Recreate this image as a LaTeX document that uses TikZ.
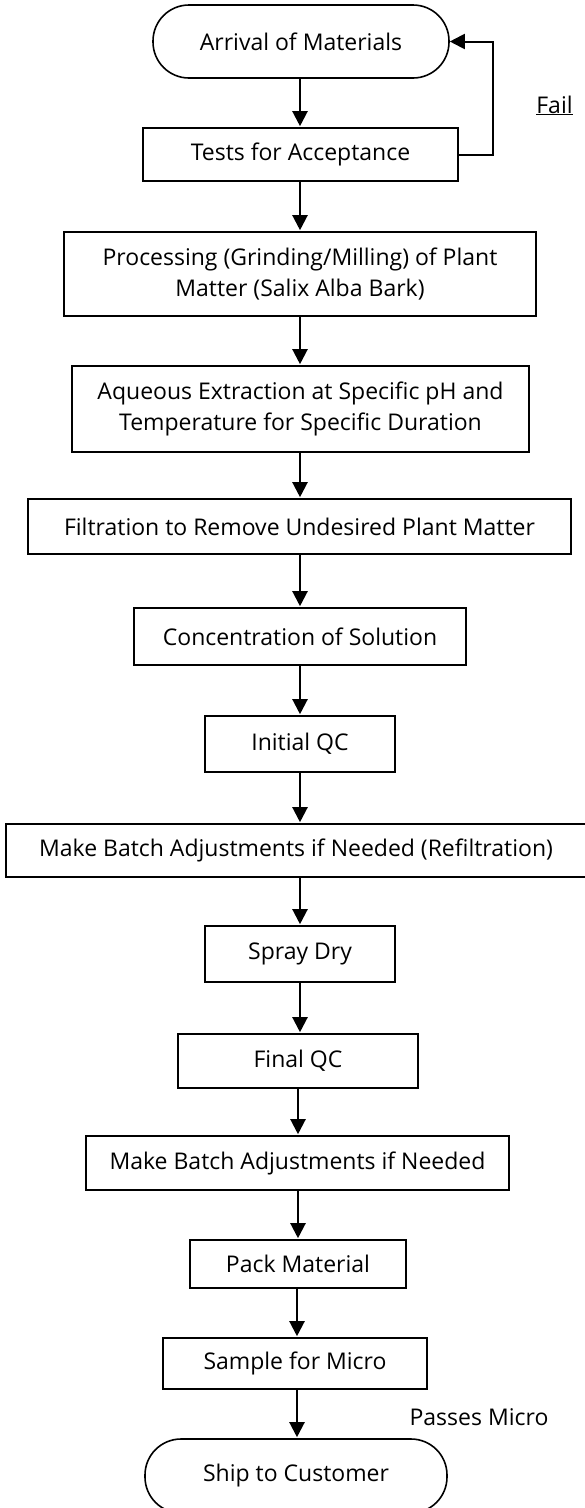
\documentclass[tikz,border=0pt]{standalone}
\usepackage{fontspec}
\setmainfont{Open Sans}
\usetikzlibrary{arrows.meta}
\begin{document}
\begin{tikzpicture}[x=1pt,y=-1pt,
  txt/.style={font=\fontsize{23}{31.5}\selectfont},
  box/.style={draw,line width=1.6pt,rectangle,inner sep=0pt,align=center,txt},
  term/.style={box,rounded corners=36pt},
  conn/.style={line width=2.2pt,-{Triangle[length=15pt,width=15pt]},shorten >=1pt},
  loopline/.style={line width=2pt,-{Triangle[length=15pt,width=15pt]}}]
\fill[white] (0,0) rectangle (585,1508);
\useasboundingbox (0,0) rectangle (585,1508);

\node[term,minimum width=296pt,minimum height=73pt] (arr) at (301,41.5) {Arrival of Materials};
\node[box,minimum width=315pt,minimum height=53pt] (tests) at (300.5,154.5) {Tests for Acceptance};
\node[box,minimum width=472pt,minimum height=84pt] (proc) at (300,274) {Processing (Grinding/Milling) of Plant\\Matter (Salix Alba Bark)};
\node[box,minimum width=457pt,minimum height=86pt] (aq) at (300.5,409) {Aqueous Extraction at Specific pH and\\Temperature for Specific Duration};
\node[box,minimum width=543pt,minimum height=55pt] (filt) at (299.5,526.5) {Filtration to Remove Undesired Plant Matter};
\node[box,minimum width=332pt,minimum height=57pt] (conc) at (300,636.5) {Concentration of Solution};
\node[box,minimum width=190pt,minimum height=56pt] (iqc) at (300,744) {Initial QC};
\node[box,minimum width=580pt,minimum height=53pt] (refil) at (296,850.5) {Make Batch Adjustments if Needed (Refiltration)};
\node[box,minimum width=190pt,minimum height=56pt] (spray) at (300,954) {Spray Dry};
\node[box,minimum width=240pt,minimum height=54pt] (fqc) at (298,1061) {Final QC};
\node[box,minimum width=423pt,minimum height=54pt] (mba) at (297.5,1163) {Make Batch Adjustments if Needed};
\node[box,minimum width=216pt,minimum height=48pt] (pack) at (298,1264) {Pack Material};
\node[box,minimum width=264pt,minimum height=51pt] (samp) at (295,1363.5) {Sample for Micro};
\node[term,minimum width=302pt,minimum height=74pt] (ship) at (296,1476) {Ship to Customer};

\node[txt,inner sep=0pt,anchor=base] (fail) at (554.5,113) {\underline{Fail}};
\node[txt,inner sep=0pt] (pm) at (479,1417) {Passes Micro};

\draw[conn] (arr.south -| 300,0) -- (tests.north -| 300,0);
\draw[conn] (tests.south -| 300,0) -- (proc.north -| 300,0);
\draw[conn] (proc.south -| 300,0) -- (aq.north -| 300,0);
\draw[conn] (aq.south -| 300,0) -- (filt.north -| 300,0);
\draw[conn] (filt.south -| 300,0) -- (conc.north -| 300,0);
\draw[conn] (conc.south -| 300,0) -- (iqc.north -| 300,0);
\draw[conn] (iqc.south -| 300,0) -- (refil.north -| 300,0);
\draw[conn] (refil.south -| 300,0) -- (spray.north -| 300,0);
\draw[conn] (spray.south -| 300,0) -- (fqc.north -| 300,0);
\draw[conn] (fqc.south -| 298,0) -- (mba.north -| 298,0);
\draw[conn] (mba.south -| 298,0) -- (pack.north -| 298,0);
\draw[conn] (pack.south -| 297,0) -- (samp.north -| 297,0);
\draw[conn] (samp.south -| 297,0) -- (ship.north -| 297,0);
\draw[loopline] (tests.east) -- ++(34,0) |- (arr.east);
\end{tikzpicture}
\end{document}
